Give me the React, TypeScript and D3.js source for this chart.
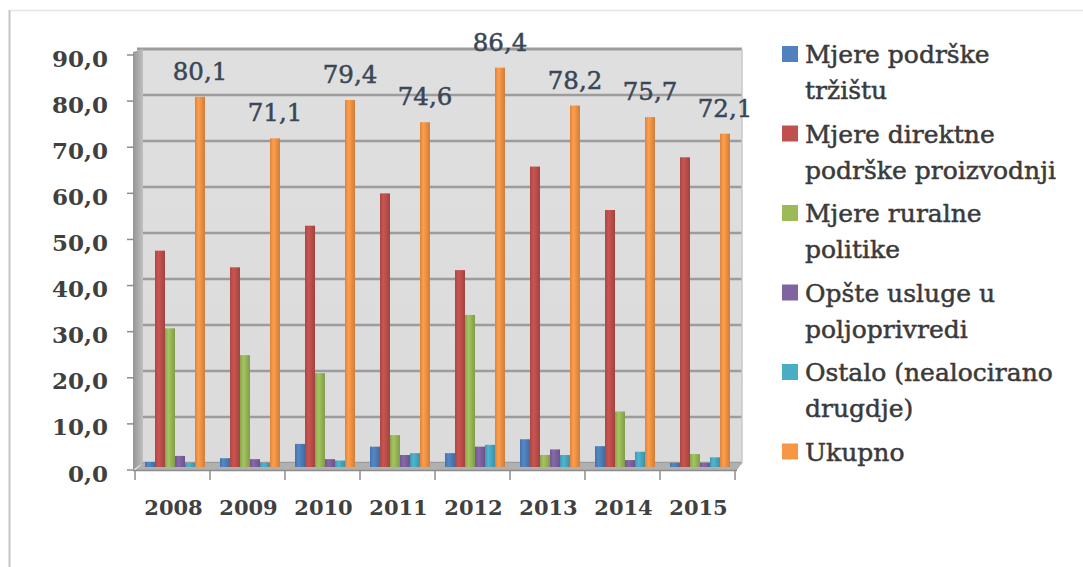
import React from "react";
import * as d3 from "d3";

const years = ["2008", "2009", "2010", "2011", "2012", "2013", "2014", "2015"];
const seriesKeys = ["trziste", "direktne", "ruralne", "opste", "ostalo", "ukupno"];
const legendLines = [
  ["Mjere podrške", "tržištu"],
  ["Mjere direktne", "podrške proizvodnji"],
  ["Mjere ruralne", "politike"],
  ["Opšte usluge u", "poljoprivredi"],
  ["Ostalo (nealocirano", "drugdje)"],
  ["Ukupno"],
];
const colors = ["#4f81bd", "#c0504d", "#9bbb59", "#8064a2", "#4bacc6", "#f79646"];

const trziste = [1.1, 1.9, 5.0, 4.4, 3.0, 6.0, 4.5, 0.9];
const direktne = [46.8, 43.2, 52.2, 59.2, 42.6, 65.0, 55.6, 67.0];
const ruralne = [30.0, 24.2, 20.3, 6.9, 32.9, 2.6, 12.0, 2.8];
const opste = [2.4, 1.7, 1.7, 2.6, 4.4, 3.8, 1.5, 0.9];
const ostalo = [0.9, 0.9, 1.4, 3.0, 4.8, 2.6, 3.3, 2.1];
const ukupno = [80.1, 71.1, 79.4, 74.6, 86.4, 78.2, 75.7, 72.1];
const yTicks = [0, 10, 20, 30, 40, 50, 60, 70, 80, 90];

const seriesValues = [trziste, direktne, ruralne, opste, ostalo, ukupno];

const fmt = (v: number) => d3.format(".1f")(v).replace(".", ",");

export default function App() {
  const W = 1083;
  const H = 567;
  const x = d3.scaleBand<string>().domain(years).range([135, 735]);
  const xs = d3.scaleBand<string>().domain(seriesKeys).range([10, 70]);
  const yBar = d3.scaleLinear().domain([0, 90]).range([467, 51]);
  const yWall = d3.scaleLinear().domain([0, 90]).range([463, 49]);
  const yAxis = d3.scaleLinear().domain([0, 90]).range([470, 55]);

  const wallLeft = 143;
  const wallRight = 742;

  return (
    <svg
      width={W}
      height={H}
      style={{ position: "absolute", left: 0, top: 0, background: "#fff" }}
    >
      <defs>
        {colors.map((c, i) => (
          <linearGradient key={i} id={`g${i}`} x1="0" x2="1" y1="0" y2="0">
            <stop offset="0%" stopColor={d3.color(c)!.darker(0.35).toString()} />
            <stop offset="35%" stopColor={d3.color(c)!.brighter(0.15).toString()} />
            <stop offset="100%" stopColor={d3.color(c)!.darker(0.5).toString()} />
          </linearGradient>
        ))}
        <linearGradient id="wall" x1="0" x2="0" y1="0" y2="1">
          <stop offset="0%" stopColor="#dfdfdf" />
          <stop offset="100%" stopColor="#dbdbdb" />
        </linearGradient>
        <linearGradient id="side" x1="0" x2="1" y1="0" y2="0">
          <stop offset="0%" stopColor="#959595" />
          <stop offset="100%" stopColor="#bfbfbf" />
        </linearGradient>
      </defs>

      {/* frame */}
      <line x1={9.5} y1={10} x2={9.5} y2={H} stroke="#c4c4c4" strokeWidth={2} />
      <line x1={11} y1={10.5} x2={W} y2={10.5} stroke="#e6e6e6" strokeWidth={1.5} />

      {/* back wall */}
      <rect x={wallLeft} y={yWall(90)} width={wallRight - wallLeft} height={yWall(0) - yWall(90)} fill="url(#wall)" />
      {yTicks.map((t) => (
        <line
          key={t}
          x1={wallLeft - 6}
          x2={wallRight}
          y1={yWall(t)}
          y2={yWall(t)}
          stroke="#9c9c9c"
          strokeWidth={t === 90 ? 3 : 2.4}
        />
      ))}
      <line x1={wallRight} x2={wallRight} y1={yWall(90)} y2={yWall(0)} stroke="#c8c8c8" strokeWidth={1.5} />

      {/* side wall */}
      <polygon
        points={`133,${yAxis(90) - 3} ${wallLeft},${yWall(90)} ${wallLeft},${yWall(0)} 133,${yAxis(0)}`}
        fill="url(#side)"
      />
      {/* floor */}
      <polygon
        points={`135,${yAxis(0)} 737,${yAxis(0)} ${wallRight},${yWall(0)} ${wallLeft},${yWall(0)}`}
        fill="#b0b0b0"
      />
      <line x1={133} x2={737} y1={yAxis(0) + 0.5} y2={yAxis(0) + 0.5} stroke="#8c8c8c" strokeWidth={1.5} />

      {/* y axis ticks */}
      {yTicks.map((t) => (
        <g key={t}>
          <line x1={127} x2={134} y1={yAxis(t)} y2={yAxis(t)} stroke="#8c8c8c" strokeWidth={1.5} />
          <text
            x={108}
            y={yAxis(t) + 3}
            textAnchor="end"
            dominantBaseline="central"
            fontFamily="DejaVu Serif"
            fontWeight="bold"
            fontSize={23}
            fill="#404040"
          >
            {fmt(t)}
          </text>
        </g>
      ))}

      {/* x axis ticks & labels */}
      {[...years.map((yr) => x(yr)!), 735].map((px, i) => (
        <line key={i} x1={px} x2={px} y1={yAxis(0)} y2={yAxis(0) + 10} stroke="#8c8c8c" strokeWidth={1.5} />
      ))}
      {years.map((yr) => (
        <text
          key={yr}
          x={x(yr)! + x.bandwidth() / 2 + 1}
          y={515}
          textAnchor="middle"
          fontFamily="DejaVu Serif"
          fontWeight="bold"
          fontSize={21}
          fill="#404040"
        >
          {yr}
        </text>
      ))}

      {/* bars */}
      {years.map((yr, i) =>
        seriesKeys.map((k, s) => {
          const v = seriesValues[s][i];
          const bx = x(yr)! + xs(k)!;
          return (
            <rect
              key={yr + k}
              x={bx}
              y={yBar(v)}
              width={xs.bandwidth()}
              height={yBar(0) - yBar(v)}
              fill={`url(#g${s})`}
            />
          );
        })
      )}

      {/* total labels */}
      {years.map((yr, i) => (
        <text
          key={yr}
          x={x(yr)! + xs("ukupno")! + xs.bandwidth() / 2}
          y={yBar(ukupno[i]) - 17}
          textAnchor="middle"
          fontFamily="DejaVu Serif"
          fontSize={24.5}
          fill="#3a4656"
          stroke="#3a4656"
          strokeWidth={0.5}
        >
          {fmt(ukupno[i])}
        </text>
      ))}

      {/* legend */}
      {legendLines.map((lines, i) => {
        const base = 63 + i * 79.5;
        return (
          <g key={i}>
            <rect x={782} y={base - 17} width={16} height={16} fill={colors[i]} />
            {lines.map((ln, j) => (
              <text
                key={j}
                x={805}
                y={base + j * 36}
                fontFamily="DejaVu Serif"
                fontSize={25}
                fill="#3a3a3a"
                stroke="#3a3a3a"
                strokeWidth={0.5}
              >
                {ln}
              </text>
            ))}
          </g>
        );
      })}
    </svg>
  );
}
